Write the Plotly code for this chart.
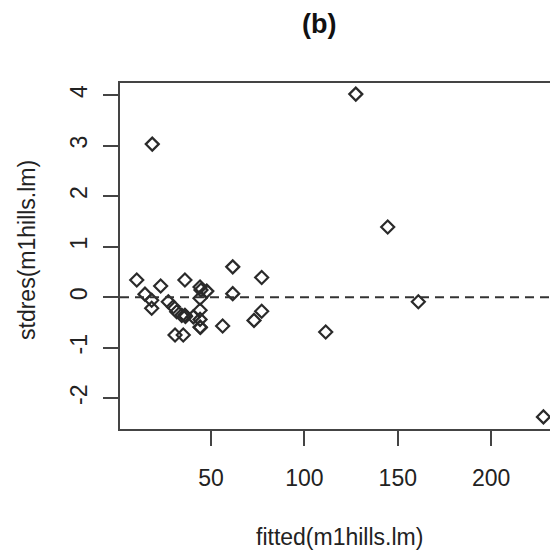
import plotly.graph_objects as go

fitted = [18.5, 10.2, 14.6, 18.2, 18.2, 23.0, 27.1, 29.8, 31.6, 34.3,
          30.7, 35.1, 36.0, 36.0, 36.3, 40.5, 44.1, 47.7, 44.1, 44.1,
          44.1, 44.1, 44.3, 44.6, 56.2, 61.6, 61.6, 77.1, 77.1, 73.0,
          127.5, 144.6, 161.0, 111.4, 228.0]
stdres = [3.03, 0.34, 0.06, -0.06, -0.22, 0.22, -0.09, -0.19, -0.29, -0.36,
          -0.75, -0.75, 0.34, -0.36, -0.38, -0.39, 0.20, 0.12, -0.02, -0.26,
          -0.44, -0.59, -0.60, 0.14, -0.57, 0.60, 0.07, 0.39, -0.28, -0.46,
          4.02, 1.39, -0.09, -0.69, -2.37]
x_ticks = [50, 100, 150, 200]
x_tick_labels = ["50", "100", "150", "200"]
y_ticks = [-2, -1, 0, 1, 2, 3, 4]
y_tick_labels = ["-2", "-1", "0", "1", "2", "3", "4"]

# the page body has an 8px default margin, so the figure is 8px smaller
OFF = 8
W, H = 558 - OFF, 556 - OFF
L, R, T, B = 120 - OFF, 0, 83 - OFF, 556 - 429
pw, ph = W - L - R, H - T - B

def px2paper(px, py):
    px, py = px - OFF, py - OFF
    return (px - L) / pw, (H - B - py) / ph

FONT = "Liberation Sans, Arial, sans-serif"
TXT = "#222222"

fig = go.Figure()
fig.add_trace(go.Scatter(
    x=fitted, y=stdres, mode="markers",
    marker=dict(symbol="diamond-open", size=10, color="#2a2a2a",
                line=dict(width=2.2, color="#2a2a2a")),
    showlegend=False, hoverinfo="x+y"))

fig.add_shape(type="line", xref="paper", x0=0, x1=1, yref="y", y0=0, y1=0,
              line=dict(color="#333333", width=2, dash="9px,6px"))

axis_common = dict(showgrid=False, zeroline=False, showline=True,
                   linecolor="#444444", linewidth=2, ticks="outside",
                   ticklen=15, tickwidth=2, tickcolor="#444444",
                   tickfont=dict(family=FONT, size=23, color=TXT))

fig.update_xaxes(range=[1.23, 235.8], tickvals=x_ticks, ticktext=x_tick_labels,
                 mirror=True, ticklabelstandoff=12, **axis_common)
fig.update_yaxes(range=[-2.61, 4.24], tickvals=y_ticks, ticktext=y_tick_labels,
                 tickangle=-90, ticklabelstandoff=7, **axis_common)

ax, ay = px2paper(339, 537)
bx, by = px2paper(27, 250)
tx, ty = px2paper(319, 24)
fig.add_annotation(text="fitted(m1hills.lm)", x=ax, y=ay, xref="paper", yref="paper",
                   showarrow=False, xanchor="center", yanchor="middle",
                   font=dict(family=FONT, size=23, color=TXT))
fig.add_annotation(text="stdres(m1hills.lm)", x=bx, y=by, xref="paper", yref="paper",
                   showarrow=False, xanchor="center", yanchor="middle", textangle=-90,
                   font=dict(family=FONT, size=23, color=TXT))
fig.add_annotation(text="<b>(b)</b>", x=tx, y=ty, xref="paper", yref="paper",
                   showarrow=False, xanchor="center", yanchor="middle",
                   font=dict(family=FONT, size=27, color="#111111"))

fig.update_layout(width=W, height=H, margin=dict(l=L, r=R, t=T, b=B),
                  plot_bgcolor="white", paper_bgcolor="white")

fig.write_html("out.html")
